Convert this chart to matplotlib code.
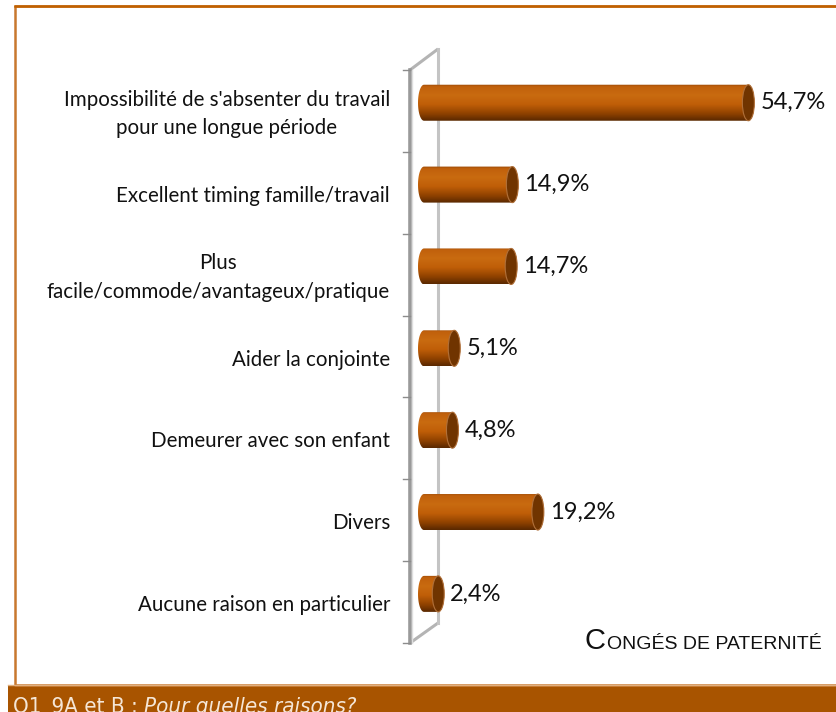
import numpy as np
import matplotlib
matplotlib.use('Agg')
import matplotlib.pyplot as plt
from matplotlib.patches import Polygon, Ellipse, Rectangle
from matplotlib.colors import LinearSegmentedColormap
from matplotlib.offsetbox import TextArea, HPacker, AnnotationBbox

# donnees
categories = ["Impossibilité de s'absenter du travail\npour une longue période",
              "Excellent timing famille/travail",
              "Plus\nfacile/commode/avantageux/pratique",
              "Aider la conjointe",
              "Demeurer avec son enfant",
              "Divers",
              "Aucune raison en particulier"]
values = [54.7, 14.9, 14.7, 5.1, 4.8, 19.2, 2.4]
title_big = "C"
title_small = "ONGÉS DE PATERNITÉ"
banner_code = "Q1_9A et B : "
banner_question = "Pour quelles raisons?"

W, H = 837, 712
label_font = ['Lato', 'DejaVu Sans']
narrow = dict(family='DejaVu Sans', stretch='condensed')

fig = plt.figure(figsize=(W / 100, H / 100), dpi=100)

# fond en pixels pour le cadre, le mur 3D et le bandeau
bg = fig.add_axes([0, 0, 1, 1])
bg.set_xlim(0, W)
bg.set_ylim(H, 0)
bg.axis('off')

bg.plot([W, 15, 15, W], [6, 6, 685, 685], color='#c8782e', lw=1.8)
bg.plot([15, W], [6, 6], color='#c06000', lw=1.8)
bg.add_patch(Rectangle((8, 686), W - 8, 26, fc='#a85400', ec='none'))
bg.plot([8, W], [685, 685], color='#e0b080', lw=1)

# mur du graphique
top_front, bot_front = 70, 643
bg.plot([410, 438], [top_front, 49], color='#b4b4b4', lw=2.2, solid_capstyle='butt')
bg.plot([410, 438], [bot_front, 623], color='#b4b4b4', lw=2.2, solid_capstyle='butt')
bg.plot([438, 438], [49, 623], color='#c4c4c4', lw=2.2)
bg.plot([410, 410], [top_front, bot_front], color='#9a9a9a', lw=2.6)
bg.plot([412, 412], [top_front, bot_front], color='#dedede', lw=1)
n = len(categories)
for k in range(n + 1):
    yy = top_front + k * (bot_front - top_front) / n
    bg.plot([403, 410], [yy, yy], color='#8c8c8c', lw=1)

# axes des barres
px_per_unit = 5.93
x0 = 424
xmin, xmax = -3, 65
ax = fig.add_axes([(x0 + xmin * px_per_unit) / W, (H - bot_front) / H,
                   (xmax - xmin) * px_per_unit / W, (bot_front - top_front) / H])
ax.patch.set_alpha(0)
ax.axis('off')

cmap = LinearSegmentedColormap.from_list('cyl', [
    (0.0, '#9a4a06'), (0.06, '#c0600c'), (0.3, '#c96b10'),
    (0.55, '#c05e08'), (0.8, '#904200'), (1.0, '#5a2800')])
grad = np.linspace(0, 1, 80).reshape(-1, 1)

rx = 6 / px_per_unit
h = 0.44
shift = 0.1
theta_l = np.linspace(np.pi / 2, 3 * np.pi / 2, 40)
theta_r = np.linspace(-np.pi / 2, np.pi / 2, 40)

for i, v in enumerate(values):
    yb = i - shift
    left = np.column_stack([rx * np.cos(theta_l), yb - h / 2 * np.sin(theta_l)])
    right = np.column_stack([v + rx * np.cos(theta_r), yb - h / 2 * np.sin(theta_r)])
    outline = Polygon(np.vstack([left, right]), closed=True,
                      transform=ax.transData, fc='none', ec='none')
    im = ax.imshow(grad, cmap=cmap, aspect='auto', interpolation='bilinear',
                   extent=(-rx, v + rx, yb + h / 2, yb - h / 2), zorder=2)
    im.set_clip_path(outline)
    ax.add_patch(Ellipse((v, yb), 2 * rx, h, fc='#703400', ec='#b0703a',
                         lw=0.8, zorder=3))
    ax.annotate(f"{v:.1f}%".replace('.', ','), xy=(v, yb), xytext=(12, 0),
                textcoords='offset pixels', ha='left', va='center',
                fontsize=17, family=label_font, color='#111111')
    ax.annotate(categories[i], xy=(0, i), xytext=(-34, -3),
                textcoords='offset pixels', ha='right', va='center',
                multialignment='center', linespacing=1.55,
                fontsize=14.8, family=label_font, color='#111111',
                annotation_clip=False)

ax.set_xlim(xmin, xmax)
ax.set_ylim(n - 0.5, -0.5)

# titre en petites capitales
title = HPacker(children=[
    TextArea(title_big, textprops=dict(fontsize=21, family='Liberation Sans', color='#111111')),
    TextArea(title_small, textprops=dict(fontsize=14, family='Liberation Sans', color='#111111'))],
    align='baseline', pad=0, sep=1)
fig.add_artist(AnnotationBbox(title, (822, 57), xycoords='figure pixels',
                              box_alignment=(1, 0), frameon=False, pad=0))

# bandeau de la question
banner = HPacker(children=[
    TextArea(banner_code, textprops=dict(fontsize=16, color='#f5e6d6', **narrow)),
    TextArea(banner_question, textprops=dict(fontsize=16, style='italic',
                                             color='#f5e6d6', **narrow))],
    align='baseline', pad=0, sep=0)
fig.add_artist(AnnotationBbox(banner, (13, -6), xycoords='figure pixels',
                              box_alignment=(0, 0), frameon=False, pad=0))

fig.savefig('out.png', dpi=100)
